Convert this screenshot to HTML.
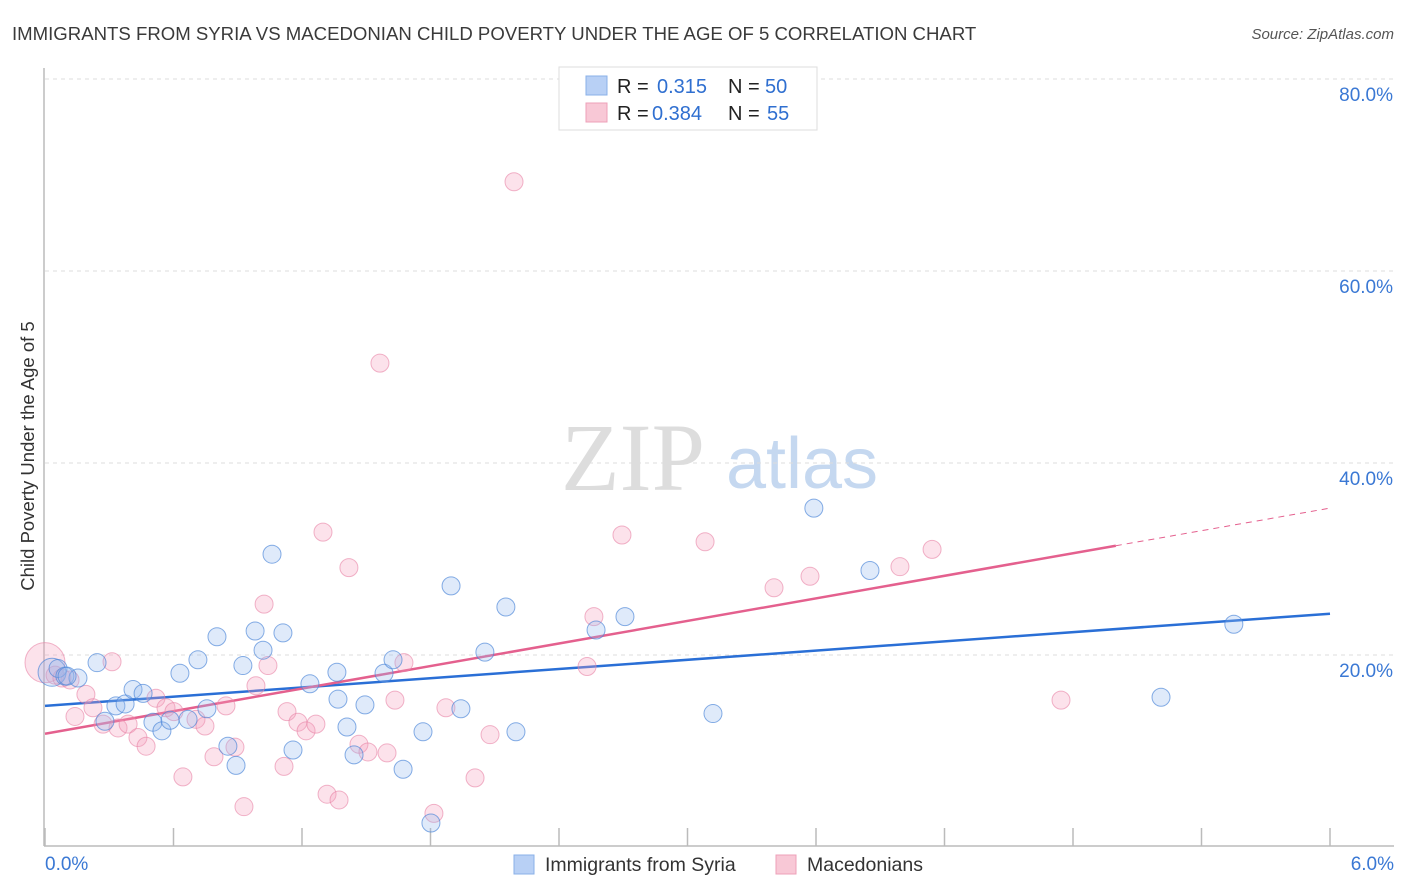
<!DOCTYPE html>
<html><head><meta charset="utf-8"><style>
body{margin:0;background:#fff;font-family:"Liberation Sans",sans-serif;}
svg{display:block}
</style></head><body>
<svg id="chart" width="1406" height="892" viewBox="0 0 1406 892">
<text x="12" y="40" font-size="18.6" fill="#3a3a3a">IMMIGRANTS FROM SYRIA VS MACEDONIAN CHILD POVERTY UNDER THE AGE OF 5 CORRELATION CHART</text>
<text x="1394" y="39" font-size="15" fill="#555" font-style="italic" text-anchor="end">Source: ZipAtlas.com</text>
<text x="0" y="0" transform="translate(34,456) rotate(-90)" font-size="18.5" fill="#333" text-anchor="middle">Child Poverty Under the Age of 5</text>
<g>
<text x="633" y="490" font-size="96" font-family="Liberation Serif,serif" fill="#ddd" text-anchor="middle">ZIP</text>
<text x="802" y="488" font-size="72" fill="#c5d8f0" text-anchor="middle">atlas</text>
</g>
<g id="grid"></g><g id="axes"></g><g id="lines"></g><g id="pts"></g>
<g>
<rect x="559" y="67" width="258" height="63" fill="#fff" stroke="#ddd"/>
<rect x="586" y="76" width="21" height="19" fill="#b8d0f5" stroke="#8ab0e8"/>
<rect x="586" y="103" width="21" height="19" fill="#f8c8d6" stroke="#eea0b8"/>
<text x="617" y="93" font-size="20" fill="#222">R =</text>
<text x="657" y="93" font-size="20" fill="#2f6fd0">0.315</text>
<text x="728" y="93" font-size="20" fill="#222">N =</text>
<text x="765" y="93" font-size="20" fill="#2f6fd0">50</text>
<text x="617" y="120" font-size="20" fill="#222">R =</text>
<text x="652" y="120" font-size="20" fill="#2f6fd0">0.384</text>
<text x="728" y="120" font-size="20" fill="#222">N =</text>
<text x="767" y="120" font-size="20" fill="#2f6fd0">55</text>
</g>
<g>
<rect x="514" y="855" width="20" height="19" fill="#b8d0f5" stroke="#8ab0e8"/>
<text x="545" y="871" font-size="19.5" fill="#333">Immigrants from Syria</text>
<rect x="776" y="855" width="20" height="19" fill="#f8c8d6" stroke="#eea0b8"/>
<text x="807" y="871" font-size="19.5" fill="#333">Macedonians</text>
</g>
</svg>
<script>
const xTicks=[0,0.6,1.2,1.8,2.4,3.0,3.6,4.2,4.8,5.4,6.0];
const yTicks=[20,40,60,80];
const yTickLabels=["20.0%","40.0%","60.0%","80.0%"];
const xTickLabels=["0.0%","6.0%"];
const syriaX=[0.033,0.061,0.093,0.154,0.243,0.331,0.374,0.411,0.458,0.504,0.546,0.584,0.630,0.668,0.714,0.756,0.803,0.854,0.892,0.924,0.981,1.018,1.060,1.111,1.158,1.237,1.363,1.368,1.410,1.443,1.494,1.583,1.625,1.672,1.765,1.802,1.896,1.942,2.054,2.152,2.199,2.573,2.708,3.119,3.590,3.852,5.211,5.551,0.103,0.280];
const syriaY=[18.2,18.6,17.8,17.6,19.2,14.7,14.9,16.4,16.0,13.0,12.1,13.2,18.1,13.3,19.5,14.4,21.9,10.5,8.5,18.9,22.5,20.5,30.5,22.3,10.1,17.0,18.2,15.4,12.5,9.6,14.8,18.1,19.5,8.1,12.0,2.5,27.2,14.4,20.3,25.0,12.0,22.6,24.0,13.9,35.3,28.8,15.6,23.2,17.8,13.1];
const macX=[0,0.047,0.079,0.117,0.140,0.191,0.224,0.271,0.313,0.341,0.388,0.434,0.472,0.518,0.565,0.602,0.644,0.705,0.747,0.789,0.845,0.887,0.929,0.985,1.023,1.041,1.116,1.130,1.181,1.219,1.265,1.298,1.317,1.373,1.419,1.466,1.508,1.597,1.634,1.676,1.816,1.872,2.008,2.078,2.190,1.564,2.531,2.563,2.694,3.082,3.404,3.572,3.992,4.142,4.744];
const macY=[19.2,17.9,17.6,17.4,13.6,15.9,14.5,12.8,19.3,12.4,12.8,11.4,10.5,15.5,14.5,14.1,7.3,13.3,12.6,9.4,14.7,10.4,4.2,16.8,25.3,18.9,8.4,14.1,13.0,12.1,12.8,32.8,5.5,4.9,29.1,10.7,9.9,9.8,15.3,19.2,3.5,14.5,7.2,11.7,69.3,50.4,18.8,24.0,32.5,31.8,27.0,28.2,29.2,31.0,15.3];
const syriaFit=[14.7,24.3];
const macFit=[11.8,35.3];
const macSolidEnd=5.0;
const X=v=>45+v/6*1285, Y=v=>847-v/20*192;
const NS="http://www.w3.org/2000/svg";
function mk(tag,attrs,parent){const e=document.createElementNS(NS,tag);for(const k in attrs)e.setAttribute(k,attrs[k]);document.getElementById(parent).appendChild(e);return e;}
yTicks.forEach((t,i)=>{
 const g=mk('line',{x1:45,x2:1394,y1:Y(t),y2:Y(t),stroke:'#ddd','stroke-dasharray':'4,4'},'grid');
 
 
 const l=mk('text',{x:1393,y:Y(t)+22,'font-size':19,fill:'#3a78d4','text-anchor':'end'},'grid');
 l.textContent=yTickLabels[i];
 
 
});
const ax=mk('line',{x1:44,x2:44,y1:68,y2:846,stroke:'#bbb','stroke-width':1.5},'axes');


const bx=mk('line',{x1:44,x2:1394,y1:846,y2:846,stroke:'#bbb','stroke-width':1.5},'axes');


xTicks.forEach(t=>{
 const k=mk('line',{x1:X(t),x2:X(t),y1:828,y2:846,stroke:'#bbb','stroke-width':1.5},'axes');
 
 
});
[[0,'start',45],[6,'end',1394]].forEach((a,i)=>{
 const l=mk('text',{x:a[2],y:870,'font-size':19,fill:'#3a78d4','text-anchor':a[1]},'axes');
 l.textContent=xTickLabels[i];
 
 
});
const line=(v,x)=>v[0]+(v[1]-v[0])*x/6;
const bl=mk('line',{x1:X(0),y1:Y(syriaFit[0]),x2:X(6),y2:Y(syriaFit[1]),stroke:'#2a6fd6','stroke-width':2.5},'lines');


const pl=mk('line',{x1:X(0),y1:Y(macFit[0]),x2:X(macSolidEnd),y2:Y(line(macFit,macSolidEnd)),stroke:'#e4608e','stroke-width':2.5},'lines');


const pd=mk('line',{x1:X(macSolidEnd),y1:Y(line(macFit,macSolidEnd)),x2:X(6),y2:Y(macFit[1]),stroke:'#e4608e','stroke-width':1,'stroke-dasharray':'6,5'},'lines');


macX.forEach((x,i)=>{
 const c=mk('circle',{cx:X(x),cy:Y(macY[i]),r:i==0?20:9,fill:'rgba(244,160,188,0.3)',stroke:'rgba(232,130,165,0.6)','stroke-width':1},'pts');
 
 
});
syriaX.forEach((x,i)=>{
 const c=mk('circle',{cx:X(x),cy:Y(syriaY[i]),r:i==0?14:9,fill:'rgba(150,185,240,0.3)',stroke:'rgba(70,130,215,0.65)','stroke-width':1},'pts');
 
 
});
</script>
</body></html>
